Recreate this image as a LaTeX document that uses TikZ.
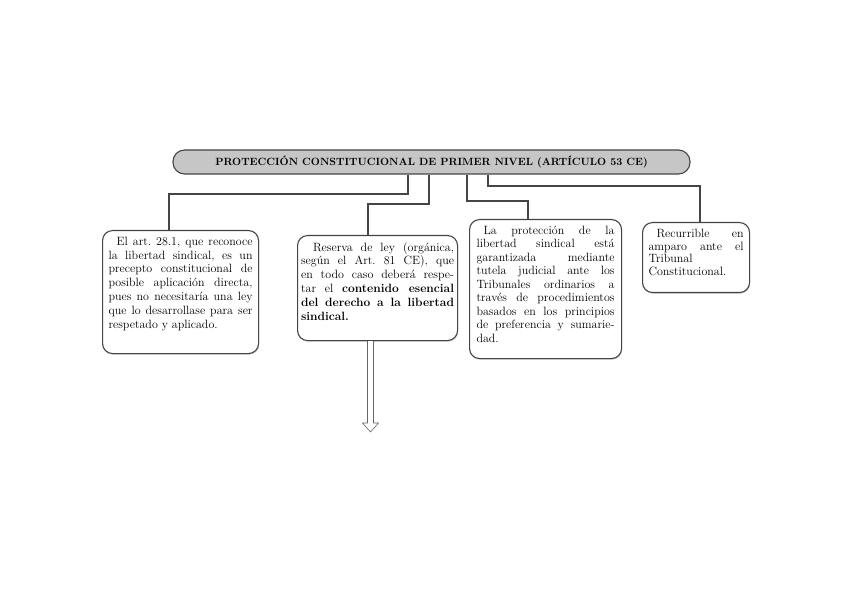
\documentclass[tikz,border=0pt]{standalone}
\usetikzlibrary{shadows}
\definecolor{lin}{HTML}{454545}
\definecolor{tfill}{HTML}{C6C6C6}
\frenchspacing
\newcommand{\bxt}[4]{\parbox[t][#2][t]{#1}{\fontsize{12}{#3}\selectfont\frenchspacing\hyphenpenalty=10000\tolerance=10000\emergencystretch=0pt #4}}
\begin{document}
\begin{tikzpicture}[x=1pt,y=-1pt,
  cbox/.style={draw=lin, line width=1.1pt, rounded corners=10pt, fill=white, anchor=north west,
    drop shadow={shadow xshift=0.6pt,shadow yshift=-1.3pt,fill=black!30}},
  conn/.style={draw=lin, line width=1.3pt},
  arr/.style={draw=black!60, line width=0.6pt, fill=white}]
\useasboundingbox (0,0) rectangle (848,601);
\fill[white] (0,0) rectangle (848,601);
\node[draw=lin, line width=1.1pt, fill=tfill, rounded corners=11.5pt, minimum width=517pt, minimum height=24pt, inner sep=0pt,
  font=\bfseries\fontsize{10.5}{11}\selectfont] (title) at (431.5,162) {PROTECCIÓN CONSTITUCIONAL DE PRIMER NIVEL (ARTÍCULO 53 CE)};
\node[cbox, inner xsep=6pt, inner ysep=6.5pt] (b1) at (102,230) {\bxt{144pt}{110pt}{13.8pt}{\hspace*{8pt}El art. 28.1, que reconoce\linebreak la libertad sindical, es un\linebreak precepto constitucional de\linebreak posible aplicación directa,\linebreak pues no necesitaría una ley\linebreak que lo desarrollase para ser\linebreak respetado y aplicado.}};
\node[cbox, inner xsep=3.5pt, inner ysep=6.5pt] (b2) at (297,235) {\bxt{153pt}{92pt}{13.8pt}{\hspace*{12pt}Reserva de ley (orgánica,\linebreak según el Art. 81 CE), que\linebreak en todo caso deberá respe-\linebreak tar el \textbf{contenido esencial}\linebreak \textbf{del derecho a la libertad}\linebreak \textbf{sindical.}}};
\node[cbox, inner xsep=7pt, inner ysep=6.5pt] (b3) at (469,219) {\bxt{138pt}{126pt}{13.5pt}{\hspace*{7pt}La protección de la\linebreak libertad sindical está\linebreak garantizada mediante\linebreak tutela judicial ante los\linebreak Tribunales ordinarios a\linebreak través de procedimientos\linebreak basados en los principios\linebreak de preferencia y sumarie-\linebreak dad.}};
\node[cbox, inner xsep=6pt, inner ysep=6.5pt] (b4) at (642,222) {\bxt{95pt}{57pt}{12.8pt}{\hspace*{8pt}Recurrible en\linebreak amparo ante el\linebreak Tribunal\linebreak Constitucional.}};
\coordinate (k1) at (408,194);
\coordinate (m1) at (169,0);
\coordinate (k2) at (429,204);
\coordinate (m2) at (368,0);
\coordinate (k3) at (467,201);
\coordinate (m3) at (528,0);
\coordinate (k4) at (488,186);
\coordinate (m4) at (700,0);
\draw[conn] (title.south -| k1) -- (k1) -| (b1.north -| m1);
\draw[conn] (title.south -| k2) -- (k2) -| (b2.north -| m2);
\draw[conn] (title.south -| k3) -- (k3) -| (b3.north -| m3);
\draw[conn] (title.south -| k4) -- (k4) -| (b4.north -| m4);
\coordinate (a1) at (367.5,423);
\coordinate (a2) at (373.5,423);
\coordinate (ah1) at (362.5,423);
\coordinate (ah2) at (378.5,423);
\coordinate (tip) at (370.5,432);
\draw[arr] (b2.south -| a1) -- (a1) -- (ah1) -- (tip) -- (ah2) -- (a2) -- (b2.south -| a2);
\end{tikzpicture}
\end{document}
